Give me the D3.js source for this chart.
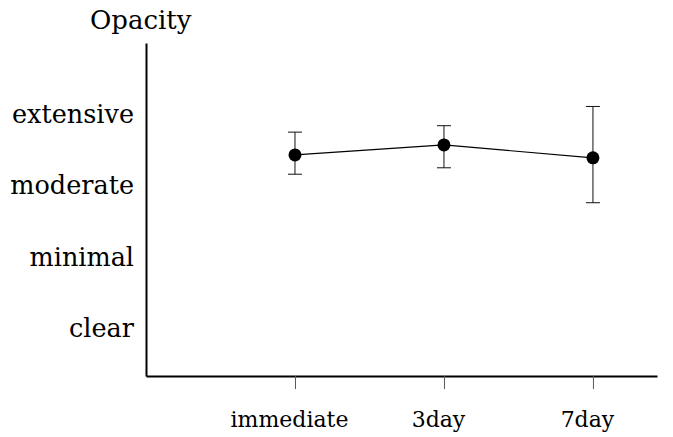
<!DOCTYPE html>
<html>
<head>
<meta charset="utf-8">
<script src="https://cdn.jsdelivr.net/npm/d3@7"></script>
<style>
  body { margin: 0; background: #fff; }
  text { font-family: "DejaVu Serif", serif; fill: #000; }
</style>
</head>
<body>
<svg id="chart" width="673" height="437"></svg>
<script>
var times = ['immediate', '3day', '7day'];
var levels = ['clear', 'minimal', 'moderate', 'extensive'];
var means = [2.43, 2.57, 2.39];
var upper = [2.75, 2.84, 3.11];
var lower = [2.16, 2.25, 1.76];

var svg = d3.select('#chart');

var x = d3.scaleLinear().domain([-1, 2.43]).range([146, 657]);
var y = d3.scaleLinear().domain([-0.67, 4.0]).range([376, 43]);

// y axis: labels only, no ticks
var yAxis = svg.append('g')
  .attr('transform', 'translate(146,0)')
  .call(d3.axisLeft(y)
    .tickValues([0, 1, 2, 3])
    .tickFormat(function(d) { return levels[d]; })
    .tickSizeInner(0).tickSizeOuter(0).tickPadding(12));
yAxis.select('.domain').attr('stroke', '#000').attr('stroke-width', 2);
yAxis.selectAll('text')
  .style('font-family', '"DejaVu Serif", serif')
  .style('font-size', '25.5px');

// x axis
var xAxis = svg.append('g')
  .attr('transform', 'translate(0,376)')
  .call(d3.axisBottom(x)
    .tickValues([0, 1, 2])
    .tickFormat(function(d) { return times[d]; })
    .tickSizeInner(13).tickSizeOuter(0));
xAxis.select('.domain').attr('stroke', '#000').attr('stroke-width', 2);
xAxis.selectAll('.tick line').attr('stroke', '#555').attr('stroke-width', 1);
xAxis.selectAll('text')
  .attr('y', 51).attr('dy', 0).attr('dx', -6)
  .style('font-family', '"DejaVu Serif", serif')
  .style('font-size', '22px');

// title
svg.append('text')
  .attr('x', 90).attr('y', 29)
  .style('font-size', '26px')
  .text('Opacity');

var data = times.map(function(t, i) {
  return { i: i, mean: means[i], hi: upper[i], lo: lower[i] };
});

// error bars
var bars = svg.append('g').attr('stroke', '#111').attr('stroke-width', 1);
bars.selectAll('line.v').data(data).enter().append('line')
  .attr('x1', function(d) { return x(d.i); })
  .attr('x2', function(d) { return x(d.i); })
  .attr('y1', function(d) { return y(d.hi); })
  .attr('y2', function(d) { return y(d.lo); });
bars.selectAll('line.top').data(data).enter().append('line')
  .attr('x1', function(d) { return x(d.i) - 7; })
  .attr('x2', function(d) { return x(d.i) + 7; })
  .attr('y1', function(d) { return y(d.hi); })
  .attr('y2', function(d) { return y(d.hi); });
bars.selectAll('line.bot').data(data).enter().append('line')
  .attr('x1', function(d) { return x(d.i) - 7; })
  .attr('x2', function(d) { return x(d.i) + 7; })
  .attr('y1', function(d) { return y(d.lo); })
  .attr('y2', function(d) { return y(d.lo); });

// connecting line
svg.append('path')
  .datum(data)
  .attr('fill', 'none')
  .attr('stroke', '#000')
  .attr('stroke-width', 1.2)
  .attr('d', d3.line()
    .x(function(d) { return x(d.i); })
    .y(function(d) { return y(d.mean); }));

svg.selectAll('circle').data(data).enter().append('circle')
  .attr('cx', function(d) { return x(d.i); })
  .attr('cy', function(d) { return y(d.mean); })
  .attr('r', 6.5)
  .attr('fill', '#000');
</script>
</body>
</html>
